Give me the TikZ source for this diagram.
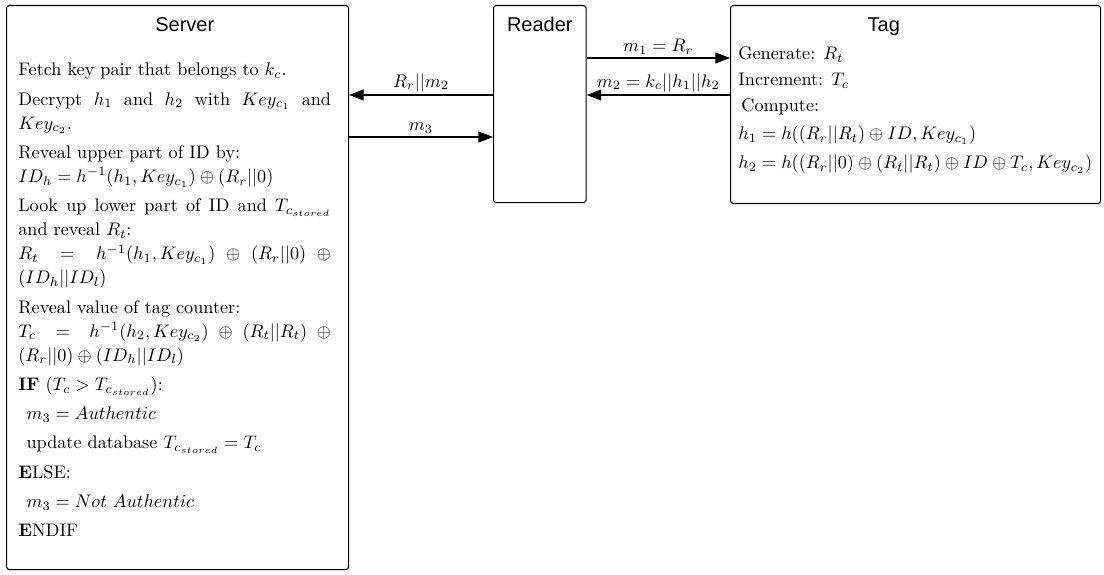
\documentclass[tikz,border=0pt]{standalone}
\usepackage{amsmath,amssymb}
\usepackage{fontspec}
\newfontfamily\titlefont{Liberation Sans}
\usetikzlibrary{positioning,arrows.meta,calc}

\begin{document}
\begin{tikzpicture}[x=0.55pt, y=-0.55pt,
  box/.style={draw, semithick, rounded corners=1.5pt, anchor=north west, inner sep=0pt},
  title/.style={font=\titlefont\fontsize{11}{13}\selectfont, anchor=base, inner sep=0pt},
  body/.style={anchor=base west, inner sep=0pt, font=\fontsize{10}{13.2}\selectfont},
  arr/.style={-{Triangle[length=8pt, width=6pt]}, semithick},
  msg/.style={above, inner sep=1.5pt, font=\fontsize{10}{12}\selectfont},
]
\useasboundingbox (0,0) rectangle (1104,574);

% the three parties
\node[box, minimum width=188.1pt, minimum height=310.2pt] (server) at (6,5) {};
\node[box, minimum width=50.9pt, minimum height=108.4pt] (reader) at (493,5) {};
\node[box, minimum width=203.5pt, minimum height=108.9pt] (tag) at (730,5) {};

\node[title] (servertitle) at ([xshift=4pt, yshift=-14.85pt]server.north) {Server};
\node[title] (readertitle) at ([yshift=-14.85pt]reader.north) {Reader};
\node[title] (tagtitle) at ([xshift=-17.5pt, yshift=-14.85pt]tag.north) {Tag};

% server side
\node[anchor=north west, inner sep=0pt, text width=172pt, align=justify,
      font=\fontsize{10}{13.2}\selectfont] (srvtext) at (18,63) {%
  \setlength{\parskip}{2.9pt}%
  Fetch key pair that belongs to $k_c$.\par
  Decrypt $h_1$ and $h_2$ with $Key_{c_1}$ and $Key_{c_2}$.\par
  Reveal upper part of ID by:\newline
  $ID_h = h^{-1}(h_1, Key_{c_1}) \oplus (R_r||0)$\par
  Look up lower part of ID and $T_{c_{stored}}$ and reveal $R_t$:\newline
  $R_t = h^{-1}(h_1, Key_{c_1}) \oplus (R_r||0) \oplus (ID_h||ID_l)$\par
  Reveal value of tag counter:\newline
  $T_c = h^{-1}(h_2, Key_{c_2}) \oplus (R_t||R_t) \oplus (R_r||0) \oplus (ID_h||ID_l)$\par
  \textbf{IF} $(T_c > T_{c_{stored}})$:\par
  \hspace*{4.5pt}$m_3 = Authentic$\par
  \hspace*{4.5pt}update database $T_{c_{stored}} = T_c$\par
  \textbf{E}LSE:\par
  \hspace*{4.5pt}$m_3 = Not~Authentic$\par
  \textbf{E}NDIF\par};

% tag side
\node[body] (gen) at (738,59.5) {Generate: $R_t$};
\node[body] (inc) at (738,85.5) {Increment: $T_c$};
\node[body] (comp) at (741,112) {Compute:};
\node[body] (hone) at (738,140) {$h_1 = h((R_r||R_t) \oplus ID, Key_{c_1})$};
\node[body] (htwo) at (738,169) {$h_2 = h((R_r||0) \oplus (R_t||R_t) \oplus ID \oplus T_c, Key_{c_2})$};

% messages
\draw[arr] ([yshift=-29.15pt]reader.north east) -- node[msg] {$m_1 = R_r$} ([yshift=-29.15pt]tag.north west);
\draw[arr] ([yshift=-49.5pt]tag.north west) -- node[msg] {$m_2 = k_c||h_1||h_2$} ([yshift=-49.5pt]reader.north east);
\draw[arr] ([yshift=-49.5pt]reader.north west) -- node[msg] {$R_r||m_2$} ([yshift=-49.5pt]server.north east);
\draw[arr] ([yshift=-72.6pt]server.north east) -- node[msg] {$m_3$} ([yshift=-72.6pt]reader.north west);
\end{tikzpicture}
\end{document}
